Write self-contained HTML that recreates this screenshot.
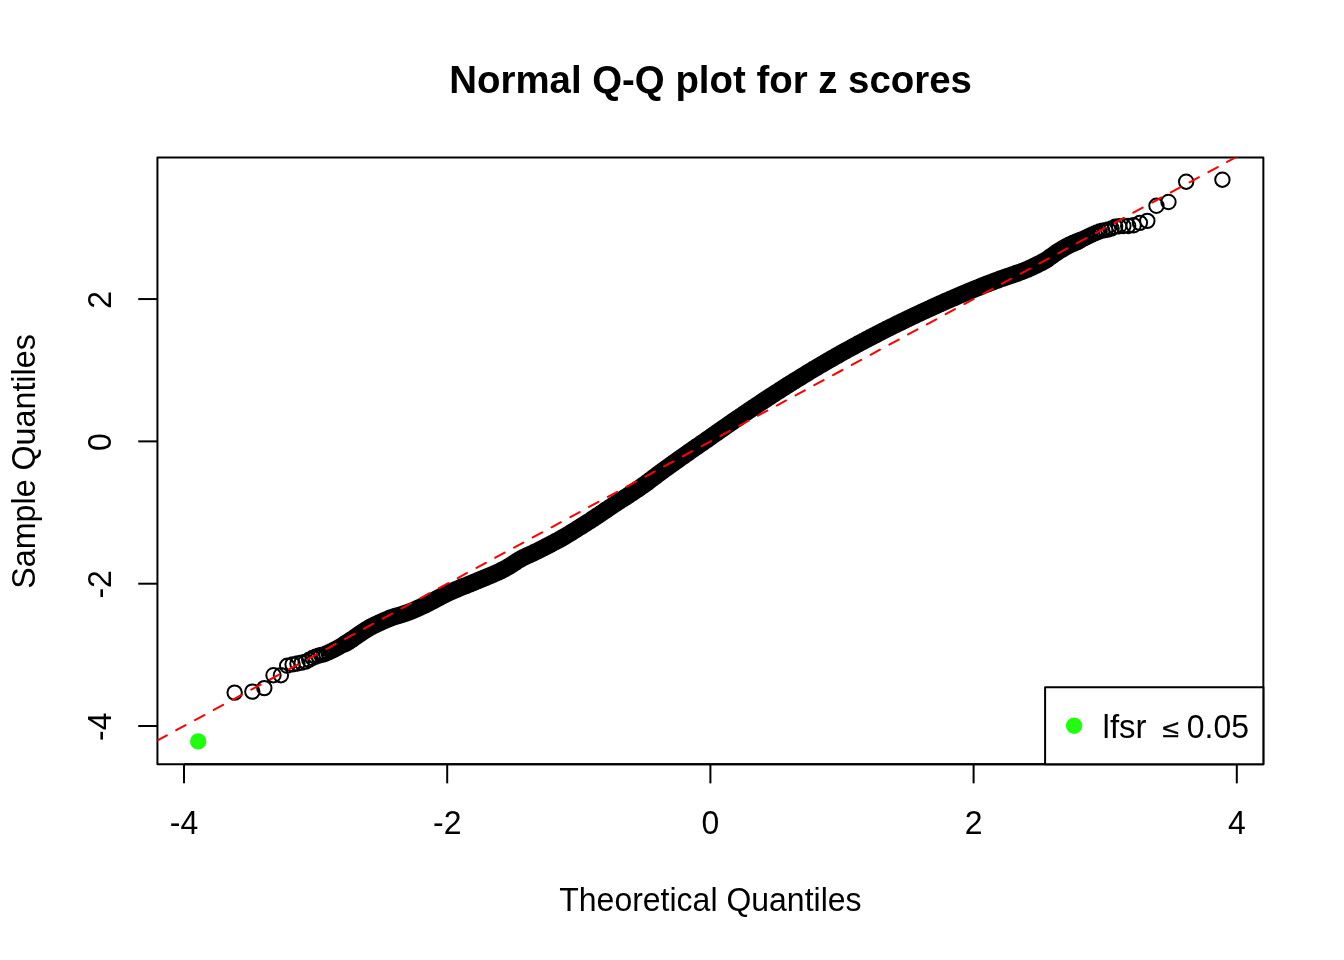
<!DOCTYPE html>
<html><head><meta charset="utf-8"><style>
html,body{margin:0;padding:0;background:#fff;}
svg{display:block;will-change:transform;}
text{font-family:"Liberation Sans",Arial,Helvetica,sans-serif;fill:#000;}
</style></head><body>
<svg width="1344" height="960" viewBox="0 0 1344 960">
<rect width="1344" height="960" fill="#fff"/>
<defs><clipPath id="pr"><rect x="157.44" y="157.44" width="1105.92" height="606.72"/></clipPath></defs>
<g clip-path="url(#pr)">
<path d="M345.1,643.7 346.6,642.8 348.1,641.9 349.5,641.0 350.9,640.1 352.3,639.2 353.6,638.2 354.9,637.3 356.1,636.4 358.5,634.7 360.8,633.2 363.0,631.8 365.1,630.4 367.2,629.1 369.1,627.9 371.0,626.9 372.8,626.0 374.5,625.1 376.2,624.3 377.8,623.6 379.4,622.8 381.0,622.1 382.4,621.4 383.9,620.8 385.3,620.2 387.4,619.3 389.3,618.5 391.2,617.7 393.1,617.1 394.9,616.5 396.6,616.0 398.3,615.6 399.9,615.1 401.5,614.6 403.0,614.1 404.5,613.6 406.0,613.1 407.4,612.6 409.2,611.9 411.0,611.3 412.7,610.6 414.4,609.9 416.0,609.1 417.6,608.4 419.2,607.7 420.7,607.0 422.2,606.3 423.6,605.6 425.0,605.0 426.4,604.3 427.7,603.6 429.3,602.8 430.9,601.9 432.5,601.1 434.0,600.3 435.5,599.5 436.9,598.8 438.3,598.0 439.7,597.3 441.1,596.6 442.7,595.7 444.2,594.9 445.7,594.2 447.2,593.5 448.6,592.8 450.1,592.1 451.4,591.5 453.0,590.9 454.6,590.2 456.1,589.5 457.6,588.9 459.0,588.3 460.4,587.7 462.0,587.0 463.6,586.4 465.1,585.8 466.6,585.3 468.0,584.7 469.4,584.1 470.8,583.6 472.4,582.9 473.9,582.3 475.4,581.7 476.8,581.1 478.2,580.5 479.6,579.9 481.1,579.3 482.6,578.7 484.1,578.1 485.5,577.5 486.9,576.9 488.5,576.3 489.9,575.7 491.4,575.1 492.8,574.4 494.3,573.8 495.6,573.2 497.1,572.5 498.6,571.9 500.0,571.2 501.4,570.5 502.8,569.8 504.2,569.1 505.5,568.4 506.9,567.6 508.3,566.8 509.7,566.0 511.1,565.1 512.4,564.2 513.8,563.3 515.1,562.5 516.3,561.6 517.6,560.8 518.9,560.0 520.3,559.2 521.7,558.4 523.0,557.7 524.4,557.1 525.8,556.4 527.2,555.7 528.6,555.1 530.0,554.5 531.5,553.8 532.9,553.2 534.2,552.5 535.6,551.8 536.9,551.2 538.4,550.5 539.7,549.8 541.1,549.1 542.5,548.4 543.9,547.7 545.2,547.0 546.6,546.3 548.0,545.6 549.3,544.9 550.7,544.2 552.1,543.4 553.4,542.7 554.7,542.0 556.1,541.3 557.5,540.6 558.9,539.9 560.2,539.1 561.5,538.4 562.8,537.6 564.1,536.9 565.4,536.1 566.8,535.3 568.1,534.5 569.4,533.7 570.7,532.9 572.0,532.1 573.3,531.3 574.6,530.5 575.9,529.7 577.2,528.8 578.5,528.0 579.8,527.2 581.1,526.4 582.4,525.6 583.7,524.8 585.0,524.0 586.3,523.1 587.6,522.3 588.9,521.5 590.2,520.7 591.5,519.8 592.7,519.0 594.0,518.1 595.3,517.3 596.5,516.4 597.8,515.6 599.1,514.7 600.4,513.9 601.6,513.0 602.9,512.2 604.2,511.3 605.4,510.4 606.7,509.6 608.0,508.7 609.2,507.9 610.5,507.0 611.8,506.2 613.0,505.3 614.3,504.5 615.6,503.7 616.8,502.8 618.1,502.0 619.4,501.2 620.7,500.3 622.0,499.5 623.3,498.7 624.5,497.9 625.8,497.1 627.1,496.2 628.4,495.4 629.7,494.5 630.9,493.7 632.2,492.9 633.4,492.0 634.7,491.2 636.0,490.3 637.2,489.5 638.5,488.6 639.8,487.7 641.0,486.9 642.3,486.0 643.5,485.1 644.8,484.3 646.0,483.4 647.2,482.5 648.4,481.6 649.6,480.7 650.8,479.7 652.1,478.8 653.3,477.9 654.4,477.0 655.7,476.1 656.9,475.1 658.1,474.2 659.3,473.3 660.5,472.4 661.8,471.5 663.0,470.6 664.2,469.7 665.5,468.8 666.7,467.9 667.9,467.1 669.1,466.2 670.4,465.3 671.6,464.4 672.9,463.5 674.1,462.6 675.3,461.7 676.6,460.9 677.8,460.0 679.0,459.1 680.3,458.2 681.5,457.3 682.8,456.5 684.0,455.6 685.3,454.7 686.5,453.8 687.7,453.0 689.0,452.1 690.2,451.2 691.4,450.4 692.7,449.5 693.9,448.6 695.2,447.8 696.5,446.9 697.7,446.0 699.0,445.2 700.2,444.3 701.5,443.4 702.8,442.6 704.0,441.7 705.3,440.8 706.5,440.0 707.8,439.1 709.0,438.2 710.3,437.3 711.5,436.4 712.8,435.5 714.0,434.7 715.3,433.8 716.6,432.9 717.8,432.0 719.1,431.1 720.3,430.2 721.6,429.4 722.8,428.5 724.1,427.6 725.4,426.7 726.6,425.9 727.9,425.0 729.2,424.1 730.4,423.2 731.7,422.4 732.9,421.5 734.1,420.7 735.4,419.8 736.6,419.0 737.9,418.1 739.1,417.3 740.4,416.4 741.6,415.6 742.9,414.7 744.1,413.8 745.4,413.0 746.7,412.1 747.9,411.3 749.2,410.4 750.5,409.6 751.7,408.7 753.0,407.9 754.2,407.0 755.5,406.2 756.7,405.4 758.0,404.5 759.3,403.7 760.6,402.8 761.8,402.0 763.1,401.1 764.4,400.3 765.6,399.5 766.9,398.6 768.2,397.8 769.4,397.0 770.7,396.1 772.0,395.3 773.3,394.5 774.6,393.6 775.8,392.8 777.1,392.0 778.4,391.2 779.7,390.4 780.9,389.5 782.2,388.7 783.5,387.9 784.8,387.1 786.1,386.3 787.4,385.4 788.7,384.6 790.0,383.8 791.2,383.0 792.5,382.2 793.8,381.4 795.1,380.6 796.4,379.8 797.7,379.0 799.0,378.2 800.3,377.4 801.6,376.6 802.9,375.8 804.2,375.0 805.5,374.2 806.8,373.4 808.1,372.6 809.4,371.8 810.7,371.0 812.0,370.2 813.3,369.4 814.6,368.6 816.0,367.9 817.3,367.1 818.6,366.3 819.9,365.5 821.2,364.8 822.6,364.0 823.9,363.2 825.2,362.4 826.5,361.7 827.8,360.9 829.1,360.1 830.5,359.4 831.8,358.6 833.1,357.9 834.4,357.1 835.8,356.3 837.1,355.6 838.4,354.9 839.7,354.1 841.1,353.3 842.4,352.6 843.8,351.8 845.1,351.1 846.4,350.4 847.8,349.6 849.2,348.9 850.5,348.2 851.8,347.4 853.2,346.7 854.6,346.0 855.9,345.2 857.2,344.5 858.6,343.8 860.0,343.0 861.3,342.3 862.7,341.6 864.0,340.9 865.4,340.1 866.7,339.4 868.1,338.7 869.4,338.0 870.8,337.3 872.2,336.6 873.5,335.9 874.9,335.2 876.3,334.5 877.7,333.7 879.0,333.0 880.4,332.4 881.7,331.6 883.1,330.9 884.6,330.2 885.9,329.5 887.3,328.8 888.7,328.2 890.1,327.4 891.4,326.8 892.8,326.1 894.2,325.4 895.6,324.7 897.0,324.0 898.4,323.3 899.8,322.7 901.2,322.0 902.6,321.3 904.0,320.6 905.4,320.0 906.7,319.3 908.2,318.6 909.6,317.9 911.0,317.3 912.3,316.6 913.7,315.9 915.2,315.3 916.6,314.6 918.0,313.9 919.4,313.3 920.8,312.6 922.2,312.0 923.7,311.3 925.2,310.6 926.5,310.0 928.0,309.3 929.4,308.7 930.9,308.0 932.3,307.3 933.7,306.7 935.1,306.0 936.6,305.4 938.0,304.7 939.5,304.1 941.0,303.4 942.4,302.8 943.8,302.1 945.3,301.5 946.7,300.8 948.3,300.2 949.8,299.5 951.2,298.9 952.6,298.3 954.1,297.7 955.5,297.0 957.0,296.4 958.6,295.7 960.0,295.1 961.4,294.5 962.8,293.9 964.3,293.3 965.8,292.7 967.3,292.0 968.9,291.4 970.5,290.7 971.9,290.1 973.4,289.5 974.8,288.9 976.3,288.3 977.9,287.7 979.5,287.1 981.1,286.4 982.7,285.7 984.2,285.2 985.6,284.6 987.1,284.0 988.6,283.4 990.2,282.8 991.8,282.2 993.4,281.6 995.1,280.9 996.9,280.3 998.3,279.8 999.7,279.2 1001.2,278.7 1002.8,278.2 1004.4,277.6 1006.0,277.0 1007.6,276.5 1009.4,275.9 1011.1,275.3 1013.0,274.7 1014.8,274.0 1016.3,273.5 1017.8,273.0 1019.3,272.4 1020.9,271.9 1022.5,271.3 1024.2,270.6 1025.9,269.9 1027.7,269.2 1029.6,268.3 1031.5,267.4 1033.4,266.5 1034.8,265.9 1036.2,265.2 1037.6,264.5 1039.1,263.7 1040.6,263.0 1042.2,262.2 1043.8,261.3 1045.4,260.4 1047.2,259.3 1048.9,258.0 1050.8,256.7 1052.7,255.3 1054.6,253.9 1056.7,252.5 1058.9,251.1 1061.1,249.7 1063.5,248.3 1065.9,246.9 1068.5,245.5 1069.9,244.8 1071.3,244.2 1072.7,243.6 1074.2,242.9 1075.7,242.3 1077.3,241.6 1079.0,240.8 1079.0,240.8" fill="none" stroke="#000" stroke-width="17.2" stroke-linecap="round" stroke-linejoin="round"/>
<path d="M227.43,692.60a7.2,7.2 0 1,0 14.4,0a7.2,7.2 0 1,0 -14.4,0M245.13,691.60a7.2,7.2 0 1,0 14.4,0a7.2,7.2 0 1,0 -14.4,0M257.13,688.10a7.2,7.2 0 1,0 14.4,0a7.2,7.2 0 1,0 -14.4,0M266.28,675.20a7.2,7.2 0 1,0 14.4,0a7.2,7.2 0 1,0 -14.4,0M273.71,675.20a7.2,7.2 0 1,0 14.4,0a7.2,7.2 0 1,0 -14.4,0M279.98,665.80a7.2,7.2 0 1,0 14.4,0a7.2,7.2 0 1,0 -14.4,0M285.41,664.38a7.2,7.2 0 1,0 14.4,0a7.2,7.2 0 1,0 -14.4,0M290.22,663.53a7.2,7.2 0 1,0 14.4,0a7.2,7.2 0 1,0 -14.4,0M294.52,662.63a7.2,7.2 0 1,0 14.4,0a7.2,7.2 0 1,0 -14.4,0M298.44,661.63a7.2,7.2 0 1,0 14.4,0a7.2,7.2 0 1,0 -14.4,0M302.02,659.81a7.2,7.2 0 1,0 14.4,0a7.2,7.2 0 1,0 -14.4,0M305.33,658.06a7.2,7.2 0 1,0 14.4,0a7.2,7.2 0 1,0 -14.4,0M308.40,656.79a7.2,7.2 0 1,0 14.4,0a7.2,7.2 0 1,0 -14.4,0M311.28,655.75a7.2,7.2 0 1,0 14.4,0a7.2,7.2 0 1,0 -14.4,0M313.97,654.97a7.2,7.2 0 1,0 14.4,0a7.2,7.2 0 1,0 -14.4,0M316.52,654.34a7.2,7.2 0 1,0 14.4,0a7.2,7.2 0 1,0 -14.4,0M318.92,653.56a7.2,7.2 0 1,0 14.4,0a7.2,7.2 0 1,0 -14.4,0M321.21,652.52a7.2,7.2 0 1,0 14.4,0a7.2,7.2 0 1,0 -14.4,0M323.38,651.47a7.2,7.2 0 1,0 14.4,0a7.2,7.2 0 1,0 -14.4,0M325.46,650.44a7.2,7.2 0 1,0 14.4,0a7.2,7.2 0 1,0 -14.4,0M327.45,649.43a7.2,7.2 0 1,0 14.4,0a7.2,7.2 0 1,0 -14.4,0M329.35,648.43a7.2,7.2 0 1,0 14.4,0a7.2,7.2 0 1,0 -14.4,0M331.18,647.44a7.2,7.2 0 1,0 14.4,0a7.2,7.2 0 1,0 -14.4,0M332.94,646.47a7.2,7.2 0 1,0 14.4,0a7.2,7.2 0 1,0 -14.4,0M334.63,645.51a7.2,7.2 0 1,0 14.4,0a7.2,7.2 0 1,0 -14.4,0M336.27,644.58a7.2,7.2 0 1,0 14.4,0a7.2,7.2 0 1,0 -14.4,0M337.85,643.67a7.2,7.2 0 1,0 14.4,0a7.2,7.2 0 1,0 -14.4,0M339.38,642.78a7.2,7.2 0 1,0 14.4,0a7.2,7.2 0 1,0 -14.4,0M340.87,641.91a7.2,7.2 0 1,0 14.4,0a7.2,7.2 0 1,0 -14.4,0M342.31,641.03a7.2,7.2 0 1,0 14.4,0a7.2,7.2 0 1,0 -14.4,0M343.70,640.11a7.2,7.2 0 1,0 14.4,0a7.2,7.2 0 1,0 -14.4,0M1065.53,243.57a7.2,7.2 0 1,0 14.4,0a7.2,7.2 0 1,0 -14.4,0M1067.02,242.94a7.2,7.2 0 1,0 14.4,0a7.2,7.2 0 1,0 -14.4,0M1068.55,242.29a7.2,7.2 0 1,0 14.4,0a7.2,7.2 0 1,0 -14.4,0M1070.13,241.60a7.2,7.2 0 1,0 14.4,0a7.2,7.2 0 1,0 -14.4,0M1071.77,240.84a7.2,7.2 0 1,0 14.4,0a7.2,7.2 0 1,0 -14.4,0M1073.46,240.04a7.2,7.2 0 1,0 14.4,0a7.2,7.2 0 1,0 -14.4,0M1075.22,239.20a7.2,7.2 0 1,0 14.4,0a7.2,7.2 0 1,0 -14.4,0M1077.05,238.33a7.2,7.2 0 1,0 14.4,0a7.2,7.2 0 1,0 -14.4,0M1078.95,237.42a7.2,7.2 0 1,0 14.4,0a7.2,7.2 0 1,0 -14.4,0M1080.94,236.49a7.2,7.2 0 1,0 14.4,0a7.2,7.2 0 1,0 -14.4,0M1083.02,235.54a7.2,7.2 0 1,0 14.4,0a7.2,7.2 0 1,0 -14.4,0M1085.19,234.55a7.2,7.2 0 1,0 14.4,0a7.2,7.2 0 1,0 -14.4,0M1087.48,233.54a7.2,7.2 0 1,0 14.4,0a7.2,7.2 0 1,0 -14.4,0M1089.88,232.51a7.2,7.2 0 1,0 14.4,0a7.2,7.2 0 1,0 -14.4,0M1092.43,231.49a7.2,7.2 0 1,0 14.4,0a7.2,7.2 0 1,0 -14.4,0M1095.12,230.64a7.2,7.2 0 1,0 14.4,0a7.2,7.2 0 1,0 -14.4,0M1098.00,230.12a7.2,7.2 0 1,0 14.4,0a7.2,7.2 0 1,0 -14.4,0M1101.07,229.56a7.2,7.2 0 1,0 14.4,0a7.2,7.2 0 1,0 -14.4,0M1104.38,228.45a7.2,7.2 0 1,0 14.4,0a7.2,7.2 0 1,0 -14.4,0M1107.96,226.77a7.2,7.2 0 1,0 14.4,0a7.2,7.2 0 1,0 -14.4,0M1111.88,226.27a7.2,7.2 0 1,0 14.4,0a7.2,7.2 0 1,0 -14.4,0M1116.18,225.96a7.2,7.2 0 1,0 14.4,0a7.2,7.2 0 1,0 -14.4,0M1120.99,225.96a7.2,7.2 0 1,0 14.4,0a7.2,7.2 0 1,0 -14.4,0M1126.42,225.29a7.2,7.2 0 1,0 14.4,0a7.2,7.2 0 1,0 -14.4,0M1132.69,222.84a7.2,7.2 0 1,0 14.4,0a7.2,7.2 0 1,0 -14.4,0M1140.12,220.90a7.2,7.2 0 1,0 14.4,0a7.2,7.2 0 1,0 -14.4,0M1149.27,205.80a7.2,7.2 0 1,0 14.4,0a7.2,7.2 0 1,0 -14.4,0M1161.27,202.00a7.2,7.2 0 1,0 14.4,0a7.2,7.2 0 1,0 -14.4,0M1178.97,181.70a7.2,7.2 0 1,0 14.4,0a7.2,7.2 0 1,0 -14.4,0M1215.20,179.70a7.2,7.2 0 1,0 14.4,0a7.2,7.2 0 1,0 -14.4,0" fill="none" stroke="#000" stroke-width="2"/>
<circle cx="198.2" cy="741.4" r="7.2" fill="#1fff0f" stroke="#1fff0f" stroke-width="2"/>
</g>
<rect x="157.44" y="157.44" width="1105.92" height="606.72" fill="none" stroke="#000" stroke-width="2" stroke-linejoin="round"/>
<g clip-path="url(#pr)"><line x1="157.44" y1="740.38" x2="1265.51" y2="141.22" stroke="#ff0000" stroke-width="2" stroke-dasharray="10.667 10.667" stroke-linecap="round"/></g>
<g stroke="#000" stroke-width="2" fill="none">
<line x1="184.00" y1="764.16" x2="184.00" y2="783.36"/>
<line x1="447.20" y1="764.16" x2="447.20" y2="783.36"/>
<line x1="710.40" y1="764.16" x2="710.40" y2="783.36"/>
<line x1="973.60" y1="764.16" x2="973.60" y2="783.36"/>
<line x1="1236.80" y1="764.16" x2="1236.80" y2="783.36"/>
<line x1="184.00" y1="764.16" x2="1236.80" y2="764.16"/>
<line x1="157.44" y1="726.02" x2="138.24" y2="726.02"/>
<line x1="157.44" y1="583.70" x2="138.24" y2="583.70"/>
<line x1="157.44" y1="441.38" x2="138.24" y2="441.38"/>
<line x1="157.44" y1="299.06" x2="138.24" y2="299.06"/>
</g>
<text transform="translate(184.00,834.0) scale(1,1.045)" font-size="32" text-anchor="middle">-4</text>
<text transform="translate(447.20,834.0) scale(1,1.045)" font-size="32" text-anchor="middle">-2</text>
<text transform="translate(710.40,834.0) scale(1,1.045)" font-size="32" text-anchor="middle">0</text>
<text transform="translate(973.60,834.0) scale(1,1.045)" font-size="32" text-anchor="middle">2</text>
<text transform="translate(1236.80,834.0) scale(1,1.045)" font-size="32" text-anchor="middle">4</text>
<text transform="translate(111.36,726.72) rotate(-90) scale(1,1.045)" font-size="32" text-anchor="middle">-4</text>
<text transform="translate(111.36,584.40) rotate(-90) scale(1,1.045)" font-size="32" text-anchor="middle">-2</text>
<text transform="translate(111.36,442.08) rotate(-90) scale(1,1.045)" font-size="32" text-anchor="middle">0</text>
<text transform="translate(111.36,299.76) rotate(-90) scale(1,1.045)" font-size="32" text-anchor="middle">2</text>
<text transform="translate(710.4,910.8) scale(1,1.045)" font-size="32" text-anchor="middle">Theoretical Quantiles</text>
<text transform="translate(34.8,461.5) rotate(-90) scale(1.008,1.045)" font-size="32" text-anchor="middle">Sample Quantiles</text>
<text transform="translate(710.6,92.9) scale(1,1.03)" font-size="38.4" font-weight="bold" text-anchor="middle">Normal Q-Q plot for z scores</text>
<rect x="1045.1" y="687.3" width="218.26" height="76.86" fill="#fff" stroke="#000" stroke-width="2" stroke-linejoin="round"/>
<circle cx="1074.1" cy="725.8" r="7.2" fill="#1fff0f" stroke="#1fff0f" stroke-width="2"/>
<text transform="translate(1102.6,738.1) scale(1.03,1.045)" font-size="32">lfsr</text>
<text transform="translate(1162.2,737.1) scale(0.94,0.765)" font-size="32" stroke="#000" stroke-width="0.5">≤</text>
<text transform="translate(1186.7,738.1) scale(1,1.045)" font-size="32">0.05</text>
</svg>
</body></html>
